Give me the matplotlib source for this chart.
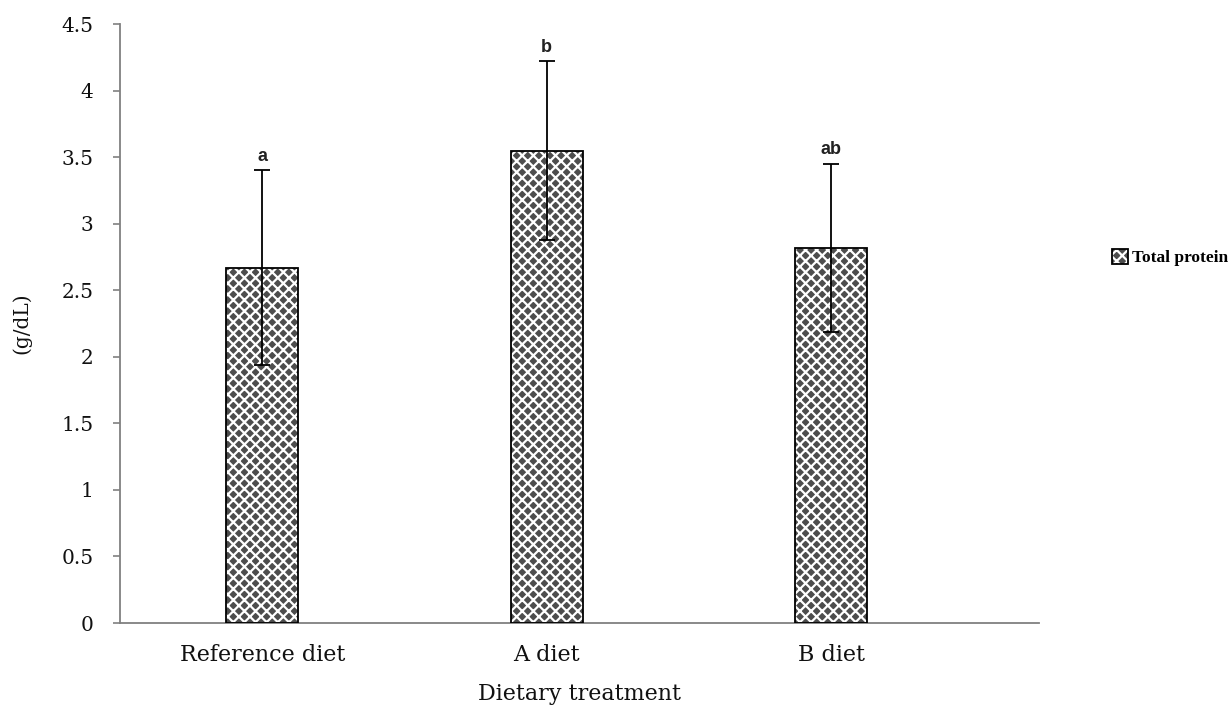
import matplotlib.pyplot as plt
import numpy as np

# Total protein by dietary treatment
diets = ["Reference diet", "A diet", "B diet"]
protein = [2.67, 3.55, 2.82]
protein_sd = [0.73, 0.67, 0.63]
groups = ["a", "b", "ab"]

plt.rcParams["hatch.linewidth"] = 1.6

fig = plt.figure(figsize=(12.29, 7.08), dpi=100)
ax = fig.add_axes([0.0976, 0.12, 0.7478, 0.846])

x = np.arange(len(diets))
width = 0.254

# patterned fill, then a black outline on top
fill = ax.bar(x, protein, width, color="#4d4d4d", edgecolor="white",
              hatch="xxx", linewidth=0, zorder=2)
outline = ax.bar(x, protein, width, facecolor="none", edgecolor="black",
                 linewidth=1.3, zorder=3)
ax.errorbar(x, protein, yerr=protein_sd, fmt="none", ecolor="black",
            elinewidth=1.3, capsize=6, capthick=1.3, zorder=4)

for xi, m, s, g in zip(x, protein, protein_sd, groups):
    ax.annotate(g, (xi, m + s), xytext=(0, 4), textcoords="offset points",
                ha="center", va="bottom", fontsize=13, fontweight="bold",
                family="Liberation Sans", color="#222222")

ax.set_ylim(0, 4.5)
ax.set_xlim(-0.5, 2.73)
ax.set_yticks(np.arange(0, 4.51, 0.5))
ax.set_yticklabels(["0", "0.5", "1", "1.5", "2", "2.5", "3", "3.5", "4", "4.5"])
ax.set_xticks(x)
ax.set_xticklabels(diets)

for side in ["top", "right"]:
    ax.spines[side].set_visible(False)
for side in ["left", "bottom"]:
    ax.spines[side].set_color("#808080")
    ax.spines[side].set_linewidth(1.3)

ax.tick_params(axis="y", length=5, color="#808080", width=1.2, pad=14,
               labelsize=14.5, labelcolor="#111111")
ax.tick_params(axis="x", length=0, pad=15, labelsize=16, labelcolor="#111111")
for lab in ax.get_xticklabels() + ax.get_yticklabels():
    lab.set_family("DejaVu Serif")

ax.set_xlabel("Dietary treatment", family="DejaVu Serif", fontsize=16,
              labelpad=12, color="#111111")
ax.set_ylabel("(g/dL)", family="DejaVu Serif", fontsize=14.5,
              labelpad=22, color="#111111")

fig.legend(handles=[(fill, outline)], labels=["Total protein"],
           loc="center left", bbox_to_anchor=(0.905, 0.636), frameon=False,
           handlelength=0.9, handleheight=0.9, handletextpad=0.25,
           borderaxespad=0, borderpad=0,
           prop={"family": "Liberation Serif", "size": 12.5, "weight": "bold"})

fig.savefig("out.png", dpi=100)
